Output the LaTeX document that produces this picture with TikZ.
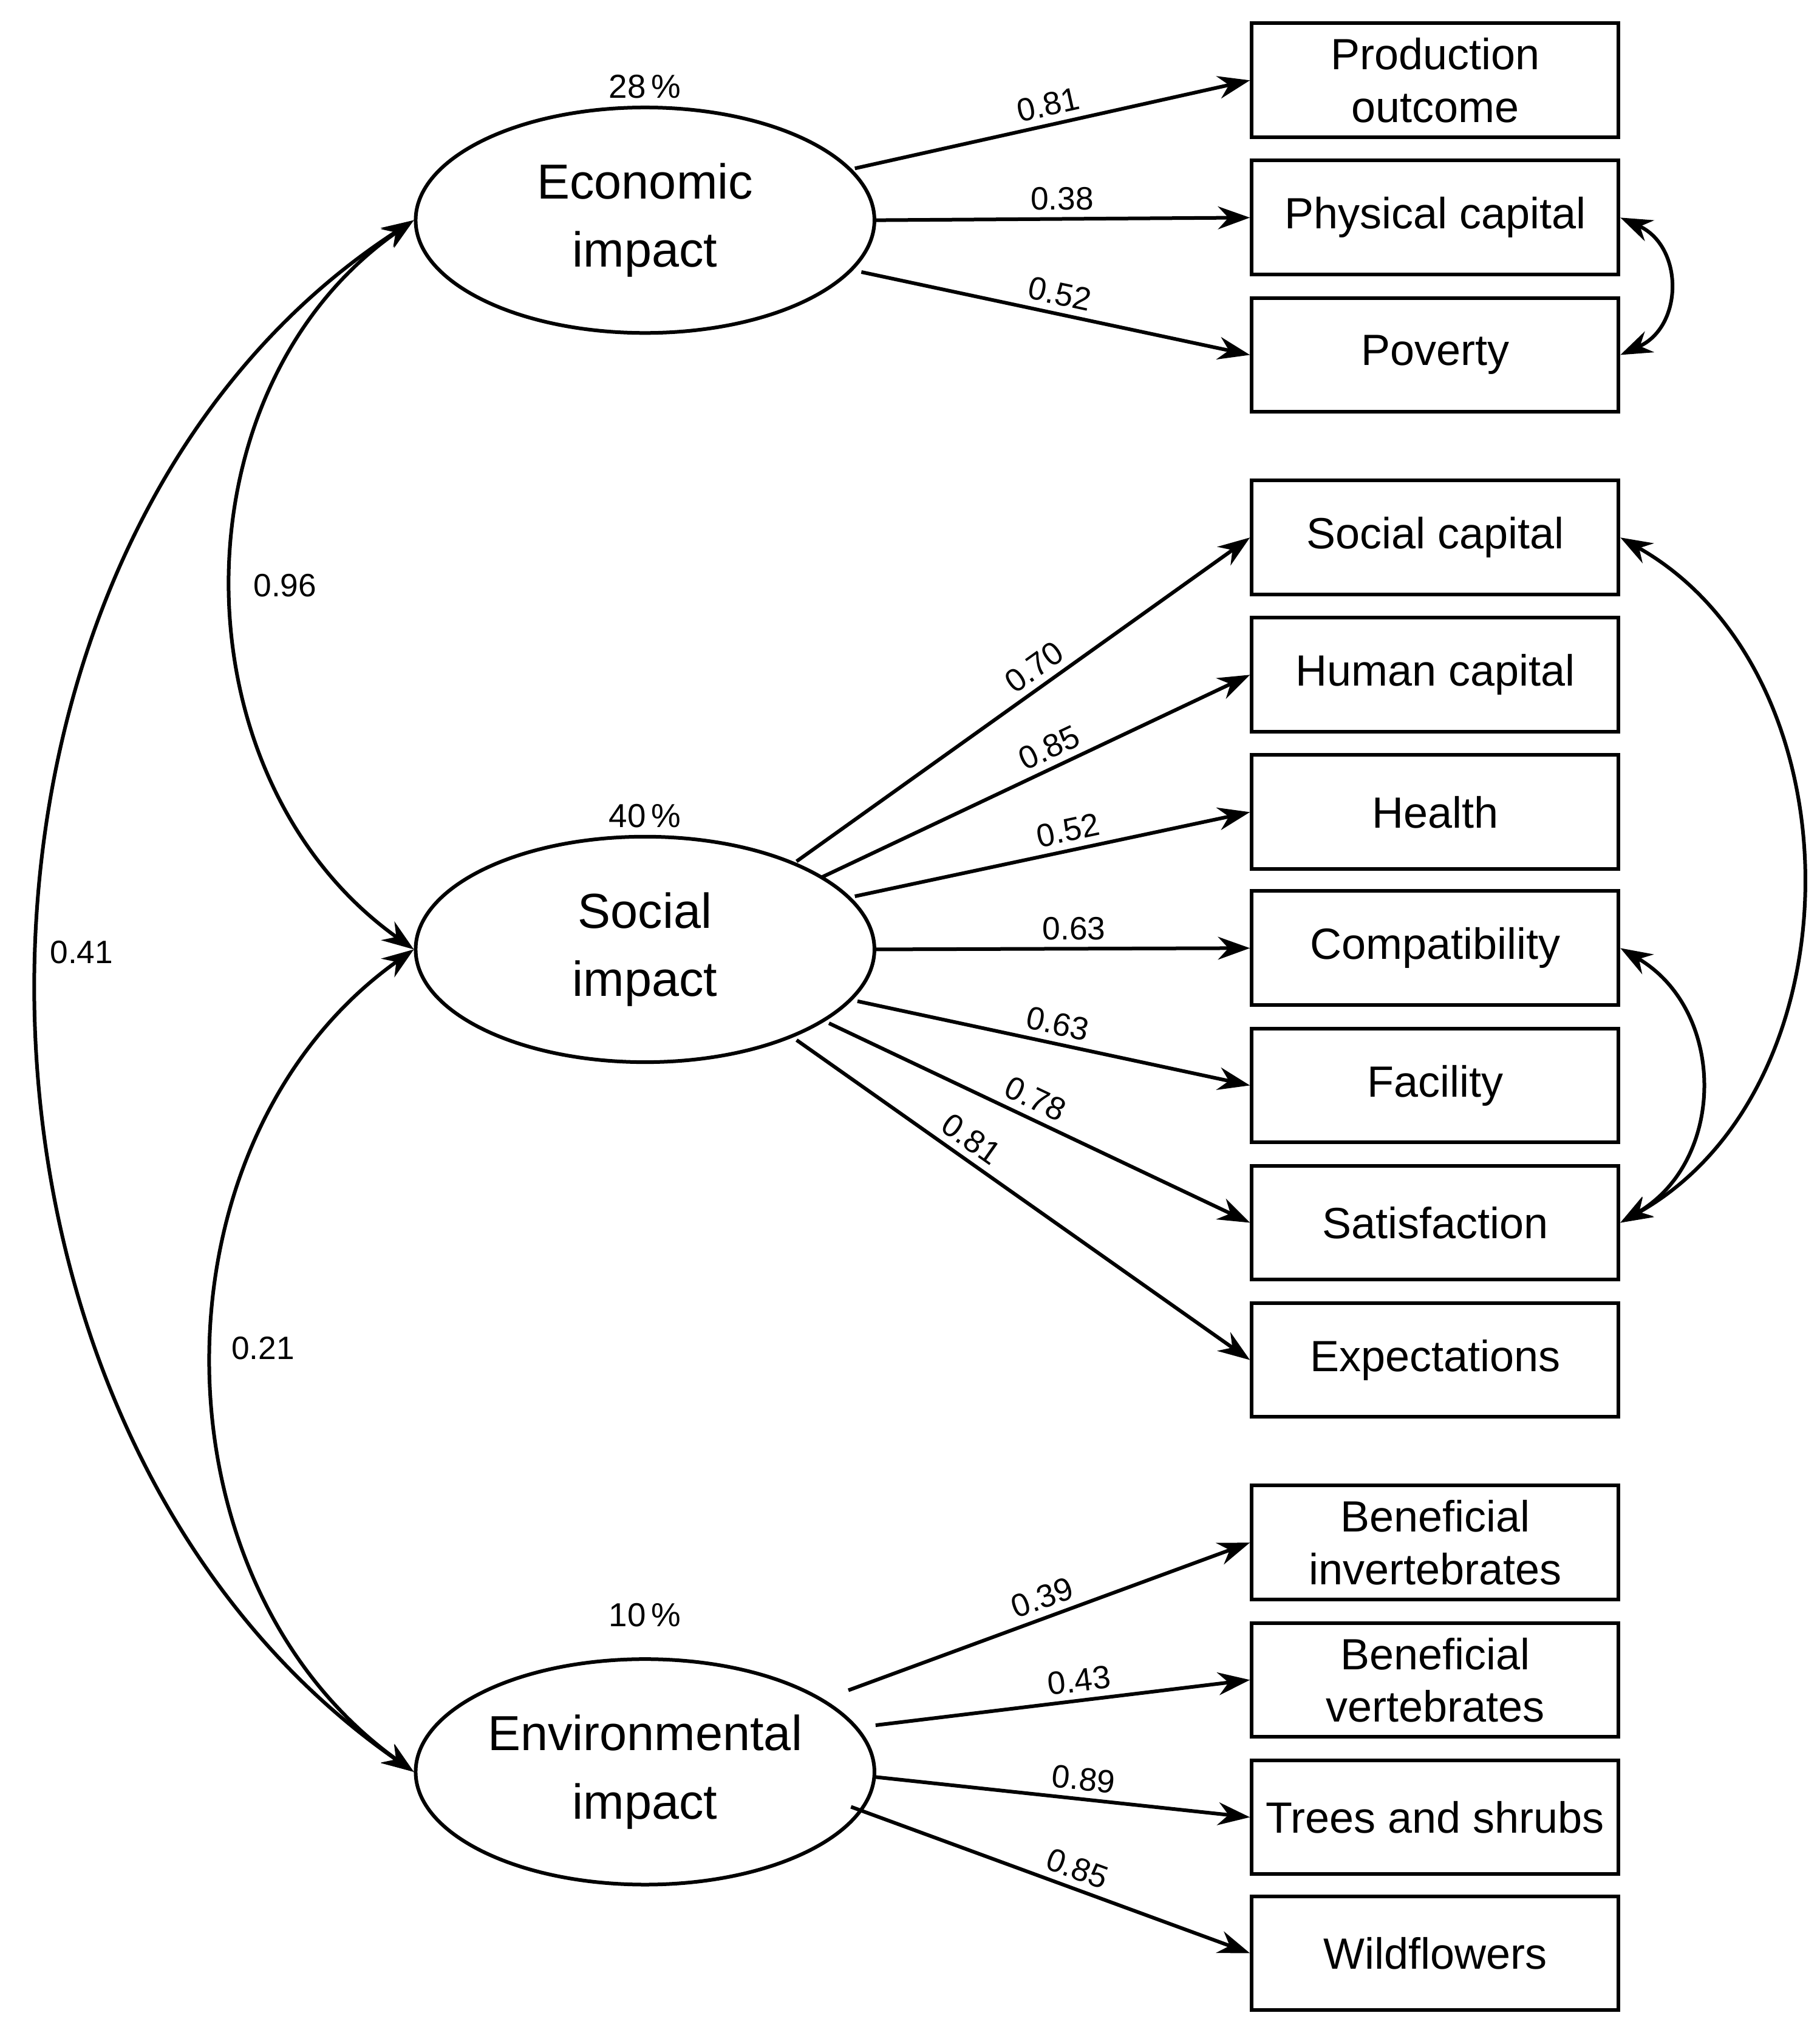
\documentclass[tikz,border=0pt]{standalone}
\usepackage{fontspec}
\setmainfont{Liberation Sans}
\usetikzlibrary{shapes.geometric,arrows.meta}
\begin{document}
\begin{tikzpicture}[x=0.01cm,y=-0.01cm,
  lat/.style={ellipse,draw,line width=0.8pt,minimum width=3.54cm,minimum height=1.74cm,font=\fontsize{10.8}{15}\selectfont,align=center,inner sep=0pt},
  obs/.style={draw,line width=0.8pt,minimum width=2.83cm,minimum height=0.88cm,font=\fontsize{9.6}{11.5}\selectfont,align=center,inner sep=0pt},
  arr/.style={line width=0.8pt,-{Stealth[length=7pt,width=5pt]}},
  cov/.style={line width=0.8pt,{Stealth[length=7pt,width=5pt]}-{Stealth[length=7pt,width=5pt]}},
  lab/.style={font=\fontsize{7.1}{9}\selectfont,inner sep=1.5pt},
  pct/.style={font=\fontsize{7.3}{9}\selectfont}]
\useasboundingbox (0,0) rectangle (1405,1565);
% latent variables
\node[lat] (eco) at (498,170) {Economic\\impact};
\node[lat] (soc) at (498,733) {Social\\impact};
\node[lat] (env) at (498,1368) {Environmental\\impact};
\node[pct] (peco) at (498,67) {28\,\%};
\node[pct] (psoc) at (498,630) {40\,\%};
\node[pct] (penv) at (498,1247) {10\,\%};
% indicators
\node[obs] (prod) at (1108,62) {Production\\outcome};
\node[obs] (phys) at (1108,168) {Physical capital};
\node[obs] (pov) at (1108,274) {Poverty};
\node[obs] (scap) at (1108,415) {Social capital};
\node[obs] (hcap) at (1108,521) {Human capital};
\node[obs] (hea) at (1108,627) {Health};
\node[obs] (comp) at (1108,732) {Compatibility};
\node[obs] (fac) at (1108,838) {Facility};
\node[obs] (sat) at (1108,944) {Satisfaction};
\node[obs] (expt) at (1108,1050) {Expectations};
\node[obs] (binv) at (1108,1191) {Beneficial\\invertebrates};
\node[obs] (bver) at (1108,1297) {Beneficial\\vertebrates};
\node[obs] (tree) at (1108,1403) {Trees and shrubs};
\node[obs] (wild) at (1108,1508) {Wildflowers};
% loadings
\coordinate (e1) at (660,130); \coordinate (e2) at (675,170); \coordinate (e3) at (665,210);
\draw[arr] (e1) -- node[lab,sloped,above] {0.81} (prod.west);
\draw[arr] (e2) -- node[lab,above] {0.38} (phys.west);
\draw[arr] (e3) -- node[lab,sloped,above] {0.52} (pov.west);
\coordinate (s1) at (615,665); \coordinate (s2) at (635,677); \coordinate (s3) at (660,692);
\coordinate (s4) at (676,733); \coordinate (s5) at (662,773); \coordinate (s6) at (640,790);
\coordinate (s7) at (615,803);
\draw[arr] (s1) -- node[lab,sloped,above,pos=0.55] {0.70} (scap.west);
\draw[arr] (s2) -- node[lab,sloped,above,pos=0.55] {0.85} (hcap.west);
\draw[arr] (s3) -- node[lab,sloped,above,pos=0.55] {0.52} (hea.west);
\draw[arr] (s4) -- node[lab,above,pos=0.53] {0.63} (comp.west);
\draw[arr] (s5) -- node[lab,sloped,above,pos=0.5] {0.63} (fac.west);
\draw[arr] (s6) -- node[lab,sloped,above,pos=0.47] {0.78} (sat.west);
\draw[arr] (s7) -- node[lab,sloped,above,pos=0.36] {0.81} (expt.west);
\coordinate (v1) at (655,1305); \coordinate (v2) at (676,1332);
\coordinate (v3) at (676,1372); \coordinate (v4) at (657,1395);
\draw[arr] (v1) -- node[lab,sloped,above,pos=0.5] {0.39} (binv.west);
\draw[arr] (v2) -- node[lab,sloped,above,pos=0.55] {0.43} (bver.west);
\draw[arr] (v3) -- node[lab,sloped,above,pos=0.55] {0.89} (tree.west);
\draw[arr] (v4) -- node[lab,sloped,above,pos=0.55] {0.85} (wild.west);
% covariances
\draw[cov] (eco.west) .. controls (133,300) and (133,600) .. (soc.west);
\node[lab] (c96) at (220,452) {0.96};
\draw[cov] (soc.west) .. controls (113,880) and (113,1220) .. (env.west);
\node[lab] (c21) at (203,1041) {0.21};
\draw[cov] (eco.west) .. controls (-67,420) and (-67,1100) .. (env.west);
\node[lab] (c41) at (63,735) {0.41};
\draw[cov] (phys.east) .. controls (1300,190) and (1300,252) .. (pov.east);
\draw[cov] (scap.east) .. controls (1437,520) and (1437,840) .. (sat.east);
\draw[cov] (comp.east) .. controls (1333,780) and (1333,896) .. (sat.east);
\end{tikzpicture}
\end{document}
